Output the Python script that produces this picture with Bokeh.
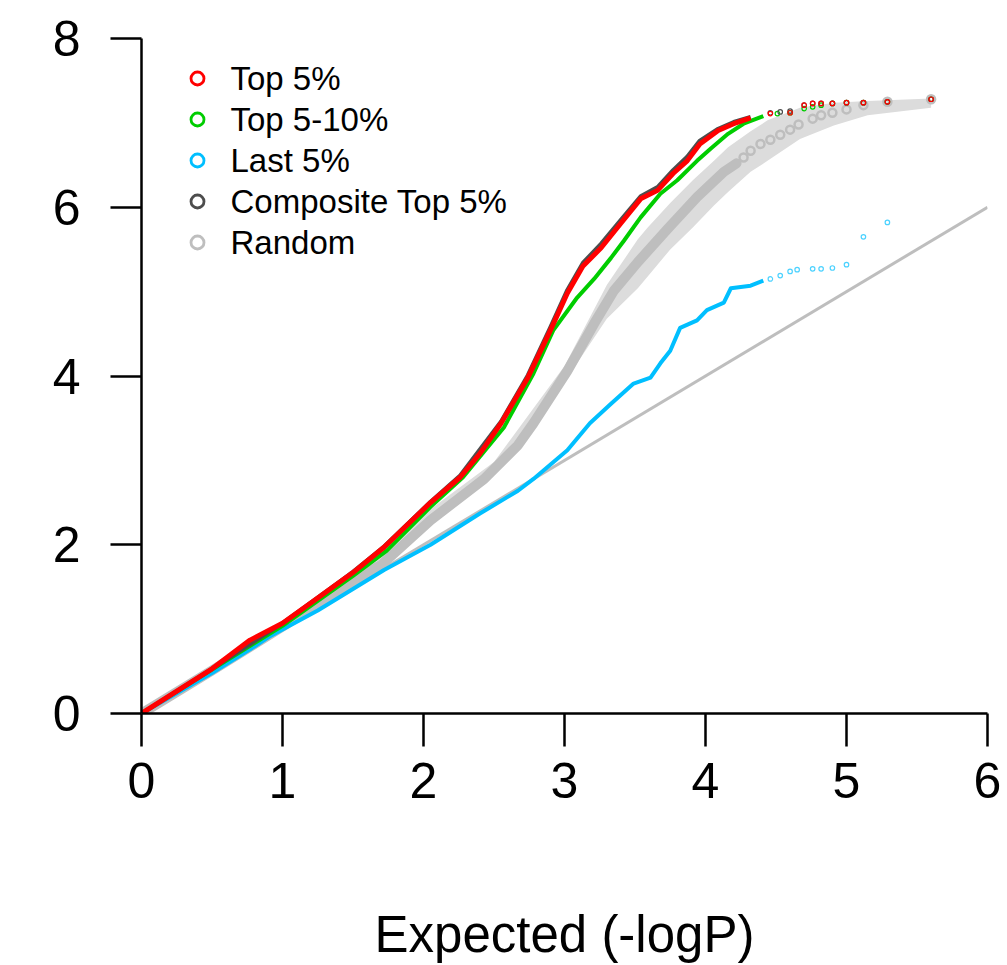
from bokeh.plotting import figure
from bokeh.models import Range1d, FixedTicker
from bokeh.embed import file_html
from bokeh.resources import INLINE
from bokeh.core.properties import value

# ---------------- data ----------------
# Top 5% (red)
top5_x = [0, 0.5, 0.77, 1.0, 1.25, 1.5, 1.72, 2.05, 2.26, 2.40, 2.55, 2.74, 2.90, 3.02, 3.13,
          3.26, 3.40, 3.54, 3.66, 3.77, 3.87, 3.96, 4.09, 4.20, 4.32]
top5_y = [0, 0.53, 0.87, 1.07, 1.37, 1.67, 1.97, 2.50, 2.80, 3.08, 3.44, 3.98, 4.54, 4.98, 5.30,
          5.52, 5.81, 6.10, 6.20, 6.40, 6.55, 6.75, 6.91, 6.99, 7.06]
top5_tail_x = [4.46, 4.60, 4.70, 4.76, 4.82, 4.90, 5.00, 5.12, 5.29, 5.60]
top5_tail_y = [7.11, 7.12, 7.21, 7.23, 7.23, 7.23, 7.24, 7.24, 7.25, 7.28]

# Top 5-10% (green)
top510_x = [0, 0.5, 1.0, 1.5, 1.74, 2.05, 2.28, 2.57, 2.78, 2.92, 3.09, 3.21, 3.33, 3.42,
            3.54, 3.68, 3.80, 3.94, 4.04, 4.16, 4.27, 4.41]
top510_y = [0, 0.52, 1.04, 1.63, 1.93, 2.45, 2.80, 3.39, 4.03, 4.54, 4.93, 5.15, 5.40, 5.60,
            5.88, 6.16, 6.32, 6.55, 6.70, 6.87, 6.99, 7.08]
top510_tail_x = [4.51, 4.60, 4.70, 4.76, 4.82, 4.90, 5.00, 5.12, 5.29, 5.60]
top510_tail_y = [7.11, 7.12, 7.17, 7.19, 7.21, 7.23, 7.24, 7.24, 7.25, 7.28]

# Last 5% (blue)
last5_x = [0, 0.5, 0.77, 0.915, 1.25, 1.72, 2.05, 2.40, 2.67, 2.78, 3.02, 3.18, 3.33, 3.49,
           3.61, 3.68, 3.75, 3.82, 3.94, 4.01, 4.13, 4.18, 4.32, 4.41]
last5_y = [0, 0.48, 0.76, 0.92, 1.22, 1.70, 2.00, 2.37, 2.64, 2.78, 3.12, 3.44, 3.67, 3.91,
           3.98, 4.15, 4.30, 4.57, 4.66, 4.78, 4.87, 5.04, 5.07, 5.13]
last5_tail_x = [4.46, 4.53, 4.60, 4.65, 4.76, 4.82, 4.90, 5.00, 5.12, 5.29]
last5_tail_y = [5.15, 5.19, 5.24, 5.26, 5.27, 5.27, 5.28, 5.32, 5.65, 5.82]

# Composite Top 5% (dark grey)
comp_x = [0, 0.5, 1.0, 1.5, 1.72, 2.05, 2.26, 2.55, 2.74, 2.90, 3.02, 3.13, 3.26, 3.40,
          3.54, 3.66, 3.77, 3.87, 3.96, 4.09, 4.20, 4.32]
comp_y = [0, 0.53, 1.07, 1.68, 1.98, 2.51, 2.82, 3.46, 4.01, 4.58, 5.02, 5.34, 5.57, 5.85,
          6.13, 6.24, 6.44, 6.60, 6.79, 6.93, 7.01, 7.07]
comp_tail_x = [4.46, 4.53, 4.60, 4.70, 4.76, 4.82, 4.90, 5.00, 5.12, 5.29, 5.60]
comp_tail_y = [7.12, 7.13, 7.14, 7.21, 7.23, 7.23, 7.23, 7.24, 7.24, 7.25, 7.28]

# Random (grey) curve and its envelope
rand_x = [0, 0.5, 1.0, 1.5, 1.70, 2.05, 2.43, 2.67, 2.78, 3.02, 3.21, 3.35, 3.52, 3.73,
          3.94, 4.13, 4.22]
rand_y = [0, 0.51, 1.03, 1.58, 1.76, 2.29, 2.78, 3.18, 3.44, 4.06, 4.62, 5.01, 5.35, 5.74,
          6.12, 6.42, 6.52]
rand_tail_x = [4.27, 4.32, 4.39, 4.46, 4.53, 4.60, 4.66, 4.76, 4.82, 4.90, 5.00, 5.12, 5.29, 5.60]
rand_tail_y = [6.59, 6.67, 6.75, 6.80, 6.86, 6.92, 6.98, 7.05, 7.09, 7.12, 7.16, 7.21, 7.25, 7.28]

band_x = [0, 1.0, 2.0, 2.5, 3.0, 3.3, 3.52, 3.59, 3.75, 3.91, 4.06, 4.16, 4.32, 4.44, 4.67,
          4.91, 5.15, 5.60]
band_lo = [0, 0.99, 2.18, 2.84, 3.93, 4.68, 5.04, 5.18, 5.50, 5.76, 6.02, 6.18, 6.42, 6.55,
           6.81, 6.97, 7.09, 7.18]
band_hi = [0, 1.07, 2.36, 2.98, 4.12, 5.08, 5.62, 5.76, 6.05, 6.32, 6.55, 6.71, 6.90, 7.03,
           7.18, 7.24, 7.26, 7.29]

# identity reference line
diag_x = [0, 6]
diag_y = [0, 6]

x_ticks = [0, 1, 2, 3, 4, 5, 6]
y_ticks = [0, 2, 4, 6, 8]
x_title = "Expected (-logP)"

legend_labels = ["Top 5%", "Top 5-10%", "Last 5%", "Composite Top 5%", "Random"]

# ---------------- styles ----------------
RED = "#ff0000"
GREEN = "#00cd00"
BLUE = "#00bfff"
DARK = "#4d4d4d"
GREY = "#bebebe"
BAND = "#dcdcdc"
legend_colors = [RED, GREEN, BLUE, DARK, GREY]
FONT = "Liberation Sans"

p = figure(width=1007, height=965, x_range=Range1d(0, 6), y_range=Range1d(0, 8),
           output_backend="svg", toolbar_location=None, tools="",
           min_border_left=141, min_border_right=20, min_border_top=38,
           min_border_bottom=252)
p.outline_line_color = None
p.grid.visible = False
p.background_fill_color = "white"
p.border_fill_color = "white"

# envelope and random curve
p.varea(x=band_x, y1=band_lo, y2=band_hi, fill_color=BAND)
p.line(diag_x, diag_y, line_color=GREY, line_width=3)
p.line(rand_x, rand_y, line_color=GREY, line_width=10, line_cap="round", line_join="round")
p.scatter(rand_tail_x, rand_tail_y, marker="circle", size=8, fill_color=None,
          line_color=GREY, line_width=2.5)

# last 5%
p.line(last5_x, last5_y, line_color=BLUE, line_width=4, line_join="round")
p.scatter(last5_tail_x, last5_tail_y, marker="circle", size=4.5, fill_color=None,
          line_color=BLUE, line_width=1.2, line_alpha=0.7)

# top 5-10%
p.line(top510_x, top510_y, line_color=GREEN, line_width=4, line_join="round")
p.scatter(top510_tail_x, top510_tail_y, marker="circle", size=4.5, fill_color=None,
          line_color=GREEN, line_width=1.2)

# composite
p.line(comp_x, comp_y, line_color=DARK, line_width=4, line_join="round")
p.scatter(comp_tail_x, comp_tail_y, marker="circle", size=4.5, fill_color=None,
          line_color=DARK, line_width=1.2)

# top 5%
p.line(top5_x, top5_y, line_color=RED, line_width=5, line_join="round")
p.scatter(top5_tail_x, top5_tail_y, marker="circle", size=4.5, fill_color=None,
          line_color=RED, line_width=1.2)

# ---------------- axes ----------------
p.xaxis.ticker = FixedTicker(ticks=x_ticks)
p.yaxis.ticker = FixedTicker(ticks=y_ticks)
for ax in (p.xaxis, p.yaxis):
    ax.axis_line_width = 2.5
    ax.axis_line_color = "black"
    ax.major_tick_line_width = 2.5
    ax.major_tick_line_color = "black"
    ax.major_tick_in = 0
    ax.minor_tick_line_color = None
    ax.major_label_text_font = FONT
    ax.major_label_text_font_size = "50px"
    ax.major_label_text_color = "black"
p.xaxis.major_tick_out = 33
p.yaxis.major_tick_out = 31
p.xaxis.major_label_standoff = 16
p.yaxis.major_label_standoff = 30
p.xaxis.axis_label = x_title
p.xaxis.axis_label_text_font = FONT
p.xaxis.axis_label_text_font_size = "51px"
p.xaxis.axis_label_text_font_style = "normal"
p.xaxis.axis_label_text_color = "black"
p.xaxis.axis_label_standoff = 105

# ---------------- legend (screen-pixel ranges) ----------------
p.extra_x_ranges = {"sx": Range1d(141, 987)}
p.extra_y_ranges = {"sy": Range1d(713, 38)}
n = len(legend_labels)
leg_y = [78 + 41 * i for i in range(n)]
p.scatter(x=[197] * n, y=leg_y, marker="circle", size=13, fill_color=None,
          line_color=legend_colors, line_width=2.8,
          x_range_name="sx", y_range_name="sy")
p.text(x=[230] * n, y=leg_y, text=legend_labels, text_baseline="middle",
       text_align="left", text_font=value(FONT), text_font_size="33px",
       text_color="black", x_range_name="sx", y_range_name="sy")

open("out.html", "w").write(file_html(p, INLINE))
